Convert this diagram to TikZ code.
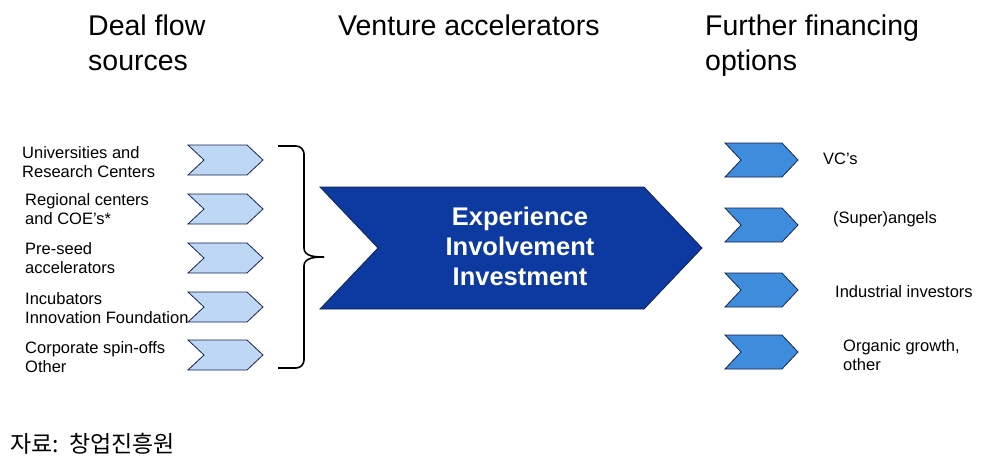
\documentclass[tikz,border=0pt]{standalone}
\usepackage{fontspec}
\setmainfont{Liberation Sans}
\newfontfamily\kofont{Noto Sans CJK KR}
\definecolor{lightchev}{RGB}{190,215,245}
\definecolor{midchev}{RGB}{64,140,220}
\definecolor{bigblue}{RGB}{12,58,160}
\definecolor{navy}{RGB}{20,35,80}
\newcommand\chevpath[5]{% x y w h d
  (#1,#2-#4/2) -- (#1+#3-#5,#2-#4/2) -- (#1+#3,#2) -- (#1+#3-#5,#2+#4/2) -- (#1,#2+#4/2) -- (#1+#5,#2) -- cycle}
\begin{document}
\begin{tikzpicture}[x=1pt,y=-1pt,
  head/.style={inner sep=0pt,anchor=base west,font=\fontsize{28.5}{35}\selectfont,align=left},
  lab/.style={inner sep=0pt,anchor=base west,font=\fontsize{16.5}{18.5}\selectfont,align=left},
  lchev/.style={draw=navy,fill=lightchev,line width=0.8pt,line join=miter},
  rchev/.style={draw=navy,fill=midchev,line width=0.8pt,line join=miter},
  bigarrow/.style={draw=navy,fill=bigblue,line width=0.8pt}]
\useasboundingbox (0,0) rectangle (998,472);
% headers (anchor = baseline of last line)
\node[head] (h1) at (88,70) {Deal flow\\sources};
\node[head] (h2) at (338,35) {Venture accelerators};
\node[head] (h3) at (705,70) {Further financing\\options};
% left chevrons
\foreach \i/\yc in {1/160,2/209,3/258,4/307,5/355}{
  \draw[lchev] \chevpath{188}{\yc}{75}{30}{16};
  \coordinate (lc\i) at (225,\yc);
}
\node[lab] (l1) at (22,177) {Universities and\\Research Centers};
\node[lab] (l2) at (25,224) {Regional centers\\and COE's*};
\node[lab] (l3) at (25,273) {Pre-seed\\accelerators};
\node[lab] (l4) at (25,323) {Incubators\\Innovation Foundation};
\node[lab] (l5) at (25,372) {Corporate spin-offs\\Other};
% brace
\coordinate (btop) at (278,146);
\coordinate (bbot) at (278,368);
\coordinate (btip) at (324,257);
\draw[line width=1.6pt] (btop) -- (296,146) to[out=0,in=90] (304,154) -- (304,248) to[out=-90,in=180] (btip);
\draw[line width=1.6pt] (btip) to[out=180,in=90] (304,266) -- (304,360) to[out=-90,in=0] (296,368) -- (bbot);
% big arrow
\draw[bigarrow] \chevpath{320}{248}{382}{122}{58};
\node[inner sep=0pt,align=center,text=white,font=\bfseries\fontsize{25.5}{30}\selectfont,anchor=base] (big) at (520,285) {Experience\\Involvement\\Investment};
% right chevrons
\foreach \i/\yc in {1/160,2/225,3/290,4/352}{
  \draw[rchev] \chevpath{725}{\yc}{73}{34}{16};
  \coordinate (rc\i) at (760,\yc);
}
\node[lab] (r1) at (823,164) {VC's};
\node[lab] (r2) at (833,223) {(Super)angels};
\node[lab] (r3) at (835,297) {Industrial investors};
\node[lab] (r4) at (843,370) {Organic growth,\\other};
% caption
\node[inner sep=0pt,anchor=base west,font=\kofont\fontsize{23}{26}\selectfont] (cap) at (10,452) {자료:\ \ 창업진흥원};
\end{tikzpicture}
\end{document}
